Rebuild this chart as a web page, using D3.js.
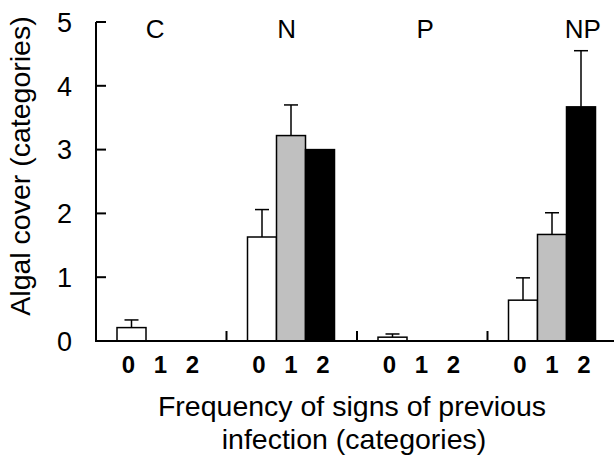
<!DOCTYPE html>
<html>
<head>
<meta charset="utf-8">
<script src="https://cdn.jsdelivr.net/npm/d3@7"></script>
<style>
  html, body { margin: 0; padding: 0; background: #fff; }
  svg { display: block; font-family: Arial, "Liberation Sans", sans-serif; }
</style>
</head>
<body>
<svg id="chart" width="614" height="459"></svg>
<script>
/* Algal cover by treatment and infection-sign frequency */
const treatments = ['C', 'N', 'P', 'NP'];
const freqs = ['0', '1', '2'];
const freqColors = ['#ffffff', '#c0c0c0', '#000000'];
// mean per treatment, in freq order 0,1,2
const means = {
    C:  [0.21, 0, 0],
    N:  [1.63, 3.22, 3.00],
    P:  [0.06, 0, 0],
    NP: [0.64, 1.67, 3.67],
};
// upper error (SE) per treatment; null = no bar drawn
const errs = {
    C:  [0.12, null, null],
    N:  [0.43, 0.48, null],
    P:  [0.05, null, null],
    NP: [0.35, 0.34, 0.88],
};
const yTicks = [0, 1, 2, 3, 4, 5];
const labelShift = [-6, -5, 3, 30];

const svg = d3.select('#chart');
const padL = 96, padB = 341, padT = 22;

const y = d3.scaleLinear().domain([0, 5]).range([padB, padT]);
const x = d3.scaleBand().domain(treatments).range([padL, padL + 130.5 * 4]);
const xi = d3.scaleBand().domain(freqs).range([21, 108]);

const rows = [];
treatments.forEach(t => freqs.forEach((f, i) => {
    rows.push({ t, f, i, v: means[t][i], e: errs[t][i] });
}));

// error bars (behind bars)
const eb = svg.append('g').attr('stroke', '#000').attr('stroke-width', 1.5);
rows.filter(d => d.e != null).forEach(d => {
    const cx = x(d.t) + xi(d.f) + xi.bandwidth() / 2;
    eb.append('line').attr('x1', cx).attr('x2', cx).attr('y1', y(d.v)).attr('y2', y(d.v + d.e));
    eb.append('line').attr('x1', cx - 7).attr('x2', cx + 7).attr('y1', y(d.v + d.e)).attr('y2', y(d.v + d.e));
});

// bars
svg.append('g').selectAll('rect').data(rows.filter(d => d.v > 0)).enter().append('rect')
    .attr('x', d => x(d.t) + xi(d.f))
    .attr('y', d => y(d.v))
    .attr('width', xi.bandwidth())
    .attr('height', d => y(0) - y(d.v))
    .attr('fill', d => freqColors[d.i])
    .attr('stroke', '#000')
    .attr('stroke-width', 1.5);

// y axis
const ya = svg.append('g').attr('stroke', '#000').attr('stroke-width', 2);
ya.append('line').attr('x1', padL).attr('x2', padL).attr('y1', y(5)).attr('y2', y(0));
yTicks.forEach(v => {
    ya.append('line').attr('x1', padL).attr('x2', padL + 10).attr('y1', y(v)).attr('y2', y(v));
});
svg.append('g').selectAll('text').data(yTicks).enter().append('text')
    .attr('x', 72).attr('y', d => y(d)).attr('dy', '0.36em')
    .attr('text-anchor', 'end').attr('font-size', 27).text(d => d);

// x axis
const xa = svg.append('g').attr('stroke', '#000').attr('stroke-width', 2);
xa.append('line').attr('x1', padL - 1).attr('x2', x.range()[1]).attr('y1', y(0)).attr('y2', y(0));
treatments.slice(1).forEach(t => {
    xa.append('line').attr('x1', x(t)).attr('x2', x(t)).attr('y1', y(0)).attr('y2', y(0) - 10);
});

// frequency labels under each group
svg.append('g').selectAll('text').data(rows).enter().append('text')
    .attr('x', d => x(d.t) + xi(d.f) + xi.bandwidth() / 2 + (d.i - 1) * 3)
    .attr('y', 373)
    .attr('text-anchor', 'middle').attr('font-size', 24).attr('font-weight', 'bold')
    .text(d => d.f);

// treatment labels
svg.append('g').selectAll('text').data(treatments).enter().append('text')
    .attr('x', (d, i) => x(d) + x.bandwidth() / 2 + labelShift[i])
    .attr('y', 38)
    .attr('text-anchor', 'middle').attr('font-size', 26).text(d => d);

// axis titles
svg.append('text').attr('transform', 'translate(30,166) rotate(-90)')
    .attr('text-anchor', 'middle').attr('font-size', 28.5).text('Algal cover (categories)');
svg.append('text').attr('x', 352).attr('y', 416)
    .attr('text-anchor', 'middle').attr('font-size', 28.5).text('Frequency of signs of previous');
svg.append('text').attr('x', 354).attr('y', 449)
    .attr('text-anchor', 'middle').attr('font-size', 28.5).text('infection (categories)');
</script>
</body>
</html>
